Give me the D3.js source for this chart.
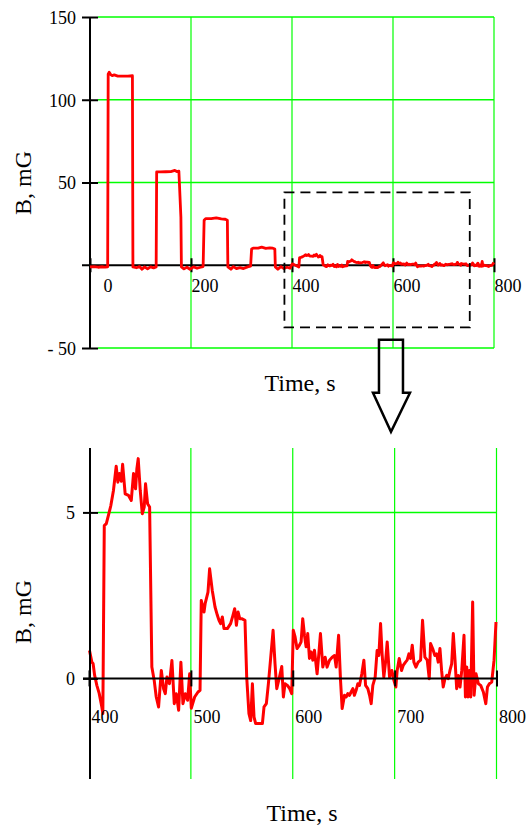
<html>
<head>
<meta charset="utf-8">
<script src="https://cdnjs.cloudflare.com/ajax/libs/d3/7.8.5/d3.min.js"></script>
<style>
  body { margin: 0; background: #fff; }
  svg { display: block; }
  text { font-family: "Liberation Serif", "Times New Roman", serif; fill: #000; }
</style>
</head>
<body>
<svg id="svg"></svg>
<script>
// coarse readings, whole run 0..400 s
var coarseTime = [0, 8, 16, 24, 30, 35, 36, 38, 41, 44, 48, 55, 65, 75, 84, 85, 92, 98, 103, 108, 114, 120, 126, 131,
  132, 140, 150, 160, 168, 172, 176, 180, 181, 186, 192, 198, 205, 212, 219, 224,
  226, 229, 240, 250, 260, 268, 272, 273, 279, 284, 290, 297, 304, 312, 318,
  320, 324, 333, 340, 348, 356, 362, 366, 367, 372, 378, 384, 390, 396];
var coarseB = [-1.0, -0.8, -1.2, -0.9, -1.1, -0.9, 115.5, 116.6, 115.2, 114.6, 115.0, 114.3, 114.3, 114.3, 114.5, -1, -1.5, -0.8, -2.4, -1.0, -2.2, -1.0, -1.6, -1.0,
  56.4, 56.4, 56.5, 56.6, 57.3, 56.6, 56.8, 29, -1, -2.2, -1.2, -2.4, -1.0, -1.8, -1.2, -0.8,
  27.2, 28.2, 28.2, 28.6, 28.0, 27.8, 27.2, -1, -2.4, -0.8, -2.0, -1.4, -2.0, -1.0, -0.6,
  9.8, 10.4, 10.3, 10.9, 10.2, 10.5, 10.3, 9.8, -1, -2.4, -0.8, -2.0, -1.2, -1.8];

// detailed readings 400..800 s (from the zoomed plot)
var zoomTime = [400.5, 402.8, 404, 405.5, 407.7, 410, 412.6, 413.6, 415, 417, 419, 421.4, 424, 426.7, 428.3, 430, 431.7, 433,
  435.5, 438.8, 441.5, 443.7, 445.7, 447, 448.3, 450.3, 452.3, 454.2, 455.5, 457.5, 459.5, 461.7, 464, 466, 468.3,
  471, 473.2, 474.9, 476.5, 479, 481.4, 483.7, 485.7, 488, 490.2, 492.2, 494.5, 496.8, 498.8, 500.4, 503.7, 507, 509,
  510.2, 512.9, 514, 516.8, 518.4, 521, 523.7, 526, 527.6, 529.2, 530.9, 532.5, 535.8, 539, 541.3, 543, 544.7, 546.3,
  548, 549.9, 553.1, 554.8, 557, 558.7, 560.4, 562, 563.6, 570.2, 571.8, 574.1, 576.1, 578.4, 580.7, 582.6, 584.3,
  586.6, 589.2, 590.8, 592.4, 594.8, 597, 599, 600.5, 602.3, 604.2, 606.6, 608.2, 609.8, 611.5, 613.1, 614.7, 616.4,
  618, 619.7, 621.3, 623.9, 625.6, 627.2, 629.5, 631.8, 633.7, 636.1, 638.7, 641, 642.6, 645, 646.9, 648.5, 650.8,
  652.4, 654, 655.7, 657.3, 659, 660.5, 662.2, 663.9, 665.5, 667.8, 669.8, 671.5, 673.7, 675.4, 677, 678.6, 680.9,
  682.8, 684.5, 686.2, 687.7, 689.4, 691.1, 692.7, 695, 697.3, 699.3, 701.2, 702.5, 704.5, 706.8, 708.4, 710.7, 712.3,
  714, 715.6, 717.3, 718.9, 720.9, 723.1, 725.5, 727.4, 729.7, 732, 734, 735.3, 737.3, 739.5, 741.2, 742.8, 744.5,
  746.1, 747.7, 749.4, 751.1, 752.6, 754.3, 756, 757.6, 759.3, 760.9, 762.5, 764.2, 765.9, 768.1, 769.5, 770.8, 772,
  773.4, 774.7, 776.6, 778, 779.9, 782.2, 784.5, 787.1, 789.5, 791.1, 793, 795.3, 797.6, 799.5];
var zoomB = [0.84, 0.49, 0.45, 0.1, -0.21, -0.45, -0.86, -1.06, 4.6, 4.66, 4.9, 5.2, 5.66, 6.39, 5.91, 6.17, 5.94, 6.45,
  5.56, 5.51, 5.36, 6.17, 5.71, 6.32, 6.62, 5.66, 4.96, 5.16, 5.86, 5.26, 5.16, 0.34, -0.06, -0.56, -0.86,
  0.24, -0.31, -0.46, 0.04, -0.16, 0.54, -0.76, -0.46, -0.96, 0.49, -0.76, -0.46, -0.66, 0.14, -0.9, -0.56, -0.41, -0.36,
  2.35, 2.0, 2.25, 2.6, 3.3, 2.65, 2.15, 1.9, 1.75, 1.65, 1.85, 1.5, 1.5, 1.65, 1.9, 2.1, 1.6, 2.0,
  1.8, 1.8, 1.75, 0.04, -1.06, -1.27, -0.16, -1.17, -1.36, -1.36, -0.86, -0.76, -0.16, 0.64, 1.45, 0.44, -0.31,
  -0.01, 0.36, -0.56, -0.16, -0.21, -0.31, -0.46, 1.45, 1.25, 0.9, 1.0, 1.1, 1.8, 1.3, 0.95, 1.35, 0.6,
  0.8, 0.55, 0.85, 0.14, 0.74, 1.35, 0.34, 0.64, 0.34, 0.55, 0.64, 0.69, 0.34, 1.3, -0.06, -0.91, -0.51,
  -0.56, -0.46, -0.51, -0.41, -0.31, -0.51, -0.36, -0.16, -0.21, 0.14, 0.55, -0.21, -0.31, -0.51, -0.76, -0.21, 0.04,
  0.84, 0.69, 1.65, 0.74, 0.04, 0.49, 1.1, 0.04, 0.24, -0.06, -0.26, 0.24, 0.6, 0.24, 0.39, 0.49, 0.55,
  0.74, 0.6, 1.0, 0.49, 0.34, 0.49, 0.55, 1.75, 0.64, 0.55, -0.01, 1.05, 0.9, 0.69, 0.74, 0.49, 0.9,
  0.24, -0.26, -0.01, 0.09, -0.01, 0.24, 0.44, 1.35, 0.55, -0.31, 0.09, -0.26, 0.24, 1.3, -0.56, 0.34, -0.56,
  0.24, -0.56, 2.3, -0.51, 0.14, -0.16, -0.21, -0.41, -0.76, -0.26, -0.16, -0.11, 0.55, 1.7];

// axis ticks
var topXTicks = [0, 200, 400, 600, 800];
var topYTicks = [150, 100, 50, -50];
var botXTicks = [400, 500, 600, 700, 800];
var botYTicks = [0, 5];

// zoom window drawn on the top plot [t0, t1, bLow, bHigh]
var zoomBox = [385, 752, -37.5, 44];

var svgWidth = 526, svgHeight = 825;
var green = "#00ff00", red = "#ff0000";

var svg = d3.select("svg").attr("width", svgWidth).attr("height", svgHeight);

var allData = coarseTime.map(function(t, i){ return [t, coarseB[i]]; })
  .concat(zoomTime.map(function(t, i){ return [t, zoomB[i]]; }));
var zoomData = zoomTime.map(function(t, i){ return [t, zoomB[i]]; });

// ---------- top plot ----------
var xTop = d3.scaleLinear().domain([0, 800]).range([90, 494]);
var yTop = d3.scaleLinear().domain([-50, 150]).range([348, 17]);

//grid
svg.append("g").selectAll("line").data(topXTicks.slice(1)).enter().append("line")
  .attr("x1", function(d){ return xTop(d); }).attr("x2", function(d){ return xTop(d); })
  .attr("y1", yTop(150)).attr("y2", yTop(-50))
  .attr("stroke", green).attr("stroke-width", 1.2);
svg.append("g").selectAll("line").data(topYTicks).enter().append("line")
  .attr("x1", 98).attr("x2", xTop(800))
  .attr("y1", function(d){ return yTop(d); }).attr("y2", function(d){ return yTop(d); })
  .attr("stroke", green).attr("stroke-width", 1.5);

//axis lines
svg.append("line").attr("x1", 82).attr("x2", xTop(800)).attr("y1", yTop(0)).attr("y2", yTop(0))
  .attr("stroke", "#000").attr("stroke-width", 2);
svg.append("line").attr("x1", xTop(0)).attr("x2", xTop(0)).attr("y1", yTop(150)).attr("y2", yTop(-50))
  .attr("stroke", "#000").attr("stroke-width", 2);

var gXTop = svg.append("g").attr("transform", "translate(0," + yTop(0) + ")")
  .call(d3.axisBottom(xTop).tickValues(topXTicks).tickSize(7).tickFormat(function(d){ return d; }));
gXTop.select(".domain").remove();
gXTop.selectAll(".tick line").attr("y1", -7).attr("stroke-width", 2);
gXTop.selectAll(".tick text")
  .attr("text-anchor", "start").attr("y", 27).attr("dy", 0)
  .attr("x", function(d){ return d == 0 ? 13 : 0; })
  .style("font-size", "18px").style("font-family", "Liberation Serif, serif");

var gYTop = svg.append("g").attr("transform", "translate(" + xTop(0) + ",0)")
  .call(d3.axisLeft(yTop).tickValues(topYTicks).tickSize(8)
    .tickFormat(function(d){ return d < 0 ? "- " + Math.abs(d) : d; }));
gYTop.select(".domain").remove();
gYTop.selectAll(".tick line").attr("x1", 8).attr("stroke-width", 2);
gYTop.selectAll(".tick text").attr("x", -14).attr("dy", "0.35em")
  .style("font-size", "18px").style("font-family", "Liberation Serif, serif");

//signal
var lineTop = d3.line().x(function(d){ return xTop(d[0]); }).y(function(d){ return yTop(d[1]); });
svg.append("path").datum(allData).attr("d", lineTop)
  .attr("fill", "none").attr("stroke", red).attr("stroke-width", 2.8).attr("stroke-linejoin", "round");

//dashed zoom window
svg.append("rect")
  .attr("x", xTop(zoomBox[0])).attr("y", yTop(zoomBox[3]))
  .attr("width", xTop(zoomBox[1]) - xTop(zoomBox[0]))
  .attr("height", yTop(zoomBox[2]) - yTop(zoomBox[3]))
  .attr("fill", "none").attr("stroke", "#000").attr("stroke-width", 1.8)
  .attr("stroke-dasharray", "10,6");

//arrow down
var ax = xTop(596), ay = yTop(-45);
var arrow = [[ax - 12, ay], [ax + 12, ay], [ax + 12, ay + 53], [ax + 19, ay + 53], [ax, ay + 92],
  [ax - 18, ay + 53], [ax - 12, ay + 53]];
svg.append("polygon").attr("points", arrow.map(function(p){ return p.join(","); }).join(" "))
  .attr("fill", "none").attr("stroke", "#000").attr("stroke-width", 2.5).attr("stroke-linejoin", "miter");

svg.append("text").attr("x", 300).attr("y", 391).attr("text-anchor", "middle")
  .style("font-size", "24px").text("Time, s");
svg.append("text").attr("transform", "translate(31,183) rotate(-90)").attr("text-anchor", "middle")
  .style("font-size", "24px").text("B, mG");

// ---------- bottom plot ----------
var xBot = d3.scaleLinear().domain([400, 800]).range([89, 496.5]);
var yBot = d3.scaleLinear().domain([-3, 7]).range([778, 446]);

svg.append("g").selectAll("line").data(botXTicks.slice(1)).enter().append("line")
  .attr("x1", function(d){ return xBot(d); }).attr("x2", function(d){ return xBot(d); })
  .attr("y1", yBot(7) + 2).attr("y2", yBot(-3) + 1)
  .attr("stroke", green).attr("stroke-width", 1.2);
svg.append("line").attr("x1", 98).attr("x2", xBot(800)).attr("y1", yBot(5)).attr("y2", yBot(5))
  .attr("stroke", green).attr("stroke-width", 1.5);

var lineBot = d3.line().x(function(d){ return xBot(d[0]); }).y(function(d){ return yBot(d[1]); });
svg.append("path").datum(zoomData).attr("d", lineBot)
  .attr("fill", "none").attr("stroke", red).attr("stroke-width", 3).attr("stroke-linejoin", "round");

svg.append("line").attr("x1", 83).attr("x2", xBot(800)).attr("y1", yBot(0)).attr("y2", yBot(0))
  .attr("stroke", "#000").attr("stroke-width", 2);
svg.append("line").attr("x1", 90).attr("x2", 90).attr("y1", yBot(7) + 2).attr("y2", yBot(-3) + 1)
  .attr("stroke", "#000").attr("stroke-width", 2);

var gXBot = svg.append("g").attr("transform", "translate(0," + yBot(0) + ")")
  .call(d3.axisBottom(xBot).tickValues(botXTicks).tickSize(8).tickFormat(function(d){ return d; }));
gXBot.select(".domain").remove();
gXBot.selectAll(".tick line").attr("y1", -8).attr("stroke-width", 2);
gXBot.selectAll(".tick text")
  .attr("text-anchor", "start").attr("y", 45).attr("dy", 0).attr("x", 2)
  .style("font-size", "18px").style("font-family", "Liberation Serif, serif");

var gYBot = svg.append("g").attr("transform", "translate(90,0)")
  .call(d3.axisLeft(yBot).tickValues(botYTicks).tickSize(7).tickFormat(function(d){ return d; }));
gYBot.select(".domain").remove();
gYBot.selectAll(".tick line").attr("x1", 8).attr("stroke-width", 2);
gYBot.selectAll(".tick text").attr("x", -15).attr("dy", "0.35em")
  .style("font-size", "18px").style("font-family", "Liberation Serif, serif");

svg.append("text").attr("x", 302).attr("y", 821).attr("text-anchor", "middle")
  .style("font-size", "24px").text("Time, s");
svg.append("text").attr("transform", "translate(31,612) rotate(-90)").attr("text-anchor", "middle")
  .style("font-size", "24px").text("B, mG");
</script>
</body>
</html>
